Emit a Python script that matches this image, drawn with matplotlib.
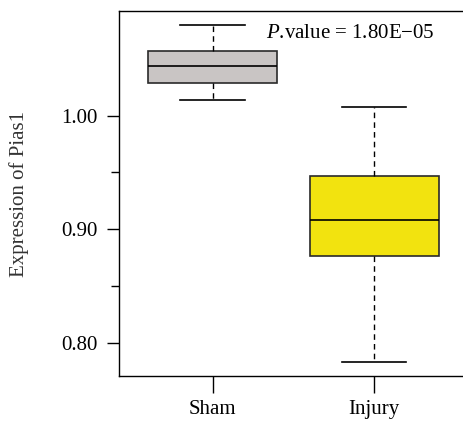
import matplotlib
matplotlib.use("Agg")
import matplotlib.pyplot as plt

groups = ["Sham", "Injury"]
# whislo, q1, median, q3, whishi
sham_stats = [1.0136, 1.0291, 1.0435, 1.0567, 1.0802]
injury_stats = [0.7827, 0.8764, 0.9078, 0.9469, 1.0079]
box_colors = ["#c9c5c4", "#f2e30f"]
pvalue_text = "1.80E\u221205"

plt.rcParams["font.family"] = ["Liberation Serif", "DejaVu Serif"]
plt.rcParams["mathtext.fontset"] = "custom"
plt.rcParams["mathtext.rm"] = "Liberation Serif"
plt.rcParams["mathtext.it"] = "Liberation Serif:italic"

fig = plt.figure(figsize=(4.63, 4.25), dpi=100)
# axes right edge runs past the picture, as in the reference
ax = fig.add_axes([118.5 / 463, 1 - 376 / 425, (467.6 - 118.5) / 463, (376 - 11) / 425])

stats = []
for name, s in zip(groups, [sham_stats, injury_stats]):
    stats.append(dict(label=name, whislo=s[0], q1=s[1], med=s[2], q3=s[3], whishi=s[4], fliers=[]))

bp = ax.bxp(stats, positions=[1, 2], widths=0.8, patch_artist=True,
            showfliers=False,
            boxprops=dict(linewidth=1.2, edgecolor="#2a2a2a"),
            medianprops=dict(color="black", linewidth=1.2),
            whiskerprops=dict(color="black", linewidth=1.0, linestyle=(0, (4, 3))),
            capprops=dict(color="black", linewidth=1.2),
            capwidths=0.4)
for patch, c in zip(bp["boxes"], box_colors):
    patch.set_facecolor(c)

ax.set_xlim(0.416, 2.58)
ax.set_ylim(0.7707, 1.0922)
ax.set_yticks([0.80, 0.90, 1.00])
ax.set_yticklabels(["0.80", "0.90", "1.00"])
ax.set_yticks([0.85, 0.95], minor=True)
ax.set_xticks([1, 2])
ax.set_xticklabels(groups)

ax.tick_params(axis="y", which="major", length=9, width=1.0, labelsize=15, pad=6)
ax.tick_params(axis="y", which="minor", length=6, width=1.0)
ax.tick_params(axis="x", length=12, width=1.0, labelsize=15, pad=5)
for sp in ax.spines.values():
    sp.set_linewidth(1.0)

ax.set_ylabel("Expression of Pias1", fontsize=15, color="#333333")
ax.yaxis.set_label_coords(-(118.5 - 29) / (467.6 - 118.5), 0.5)

ax.text(1.33, 1.0725, r"$\it{P}$" + ".value = " + pvalue_text, fontsize=15, va="center", ha="left")

fig.savefig("out.png", dpi=100)
